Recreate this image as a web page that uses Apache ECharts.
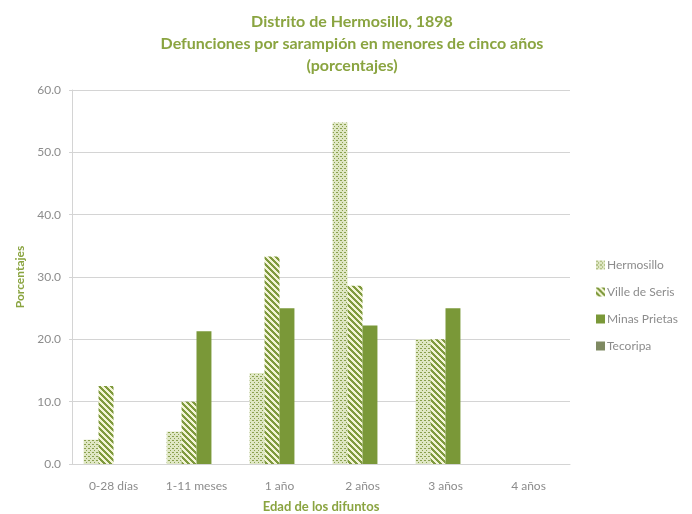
<!DOCTYPE html>
<html>
<head>
<meta charset="utf-8">
<script src="https://cdn.jsdelivr.net/npm/echarts@6/dist/echarts.min.js"></script>
<style>
html,body{margin:0;padding:0;background:#fff;}
#chart{width:692px;height:514px;}
</style>
</head>
<body>
<div id="chart"></div>
<script>
var categories = ['0-28 días', '1-11 meses', '1 año', '2 años', '3 años', '4 años'];
var seriesNames = ['Hermosillo', 'Ville de Seris', 'Minas Prietas', 'Tecoripa'];
var hermosillo = [3.9, 5.2, 14.6, 54.8, 20.0, 0];
var villeDeSeris = [12.5, 10.0, 33.3, 28.6, 20.0, 0];
var minasPrietas = [0, 21.3, 25.0, 22.2, 25.0, 0];
var tecoripa = [0, 0, 0, 0, 0, 0];
var yTicks = {min: 0, max: 60, interval: 10};

function makePattern(w, h, bg, fg, test) {
  var c = document.createElement('canvas');
  c.width = w; c.height = h;
  var ctx = c.getContext('2d');
  ctx.fillStyle = bg; ctx.fillRect(0, 0, w, h);
  ctx.fillStyle = fg;
  for (var y = 0; y < h; y++) for (var x = 0; x < w; x++) if (test(x, y)) ctx.fillRect(x, y, 1, 1);
  return {image: c, repeat: 'repeat'};
}
var dotFill = makePattern(4, 4, '#dfe7c4', '#8aa04e', function (x, y) {
  return (x === 0 && y === 0) || (x === 2 && y === 2) || (x === 1 && y === 0);
});
var stripeFill = makePattern(6, 6, '#f3f4d6', '#7f9a3e', function (x, y) {
  return ((x - y + 12) % 6) < 3;
});

var olive = '#7a9838';
var textGray = '#8c8c8c';
var titleColor = '#8aa440';

var chart = echarts.init(document.getElementById('chart'));
chart.setOption({
  animation: false,
  title: {
    text: 'Distrito de Hermosillo, 1898\nDefunciones por sarampión en menores de cinco años\n(porcentajes)',
    left: 347, textAlign: 'center', top: 6,
    textStyle: {fontFamily: 'Lato', fontWeight: 'bold', fontSize: 16, color: titleColor, lineHeight: 22}
  },
  legend: {
    orient: 'vertical', left: 591, top: 254, itemGap: 15,
    itemWidth: 9, itemHeight: 9, icon: 'rect',
    textStyle: {fontFamily: 'Lato', fontSize: 12, color: textGray, padding: [0, 0, 0, -3]},
    data: seriesNames
  },
  grid: {left: 72, right: 122, top: 90, bottom: 50, outerBoundsMode: 'none', containLabel: false},
  xAxis: {
    type: 'category', data: categories,
    name: 'Edad de los difuntos', nameLocation: 'middle', nameGap: 36,
    nameTextStyle: {fontFamily: 'Lato', fontWeight: 'bold', fontSize: 13, color: titleColor},
    axisLine: {lineStyle: {color: '#d4d4d4'}},
    axisTick: {show: false},
    axisLabel: {fontFamily: 'Lato', fontSize: 12, color: textGray, margin: 16}
  },
  yAxis: {
    type: 'value', min: yTicks.min, max: yTicks.max, interval: yTicks.interval,
    name: 'Porcentajes', nameLocation: 'middle', nameGap: 43,
    nameTextStyle: {fontFamily: 'Lato', fontWeight: 'bold', fontSize: 12, color: titleColor},
    axisLine: {show: true, lineStyle: {color: '#d4d4d4'}},
    axisTick: {show: true, length: 3, lineStyle: {color: '#d4d4d4'}},
    splitLine: {lineStyle: {color: '#d4d4d4'}},
    axisLabel: {fontFamily: 'Lato', fontSize: 12, color: textGray, margin: 11,
      formatter: function (v) { return v.toFixed(1); }}
  },
  series: [
    {name: seriesNames[0], type: 'bar', data: hermosillo, barGap: '0%', barCategoryGap: '28%',
      itemStyle: {color: dotFill}},
    {name: seriesNames[1], type: 'bar', data: villeDeSeris,
      itemStyle: {color: stripeFill}},
    {name: seriesNames[2], type: 'bar', data: minasPrietas,
      itemStyle: {color: olive}},
    {name: seriesNames[3], type: 'bar', data: tecoripa,
      itemStyle: {color: '#7f8a62'}}
  ]
});
</script>
</body>
</html>
